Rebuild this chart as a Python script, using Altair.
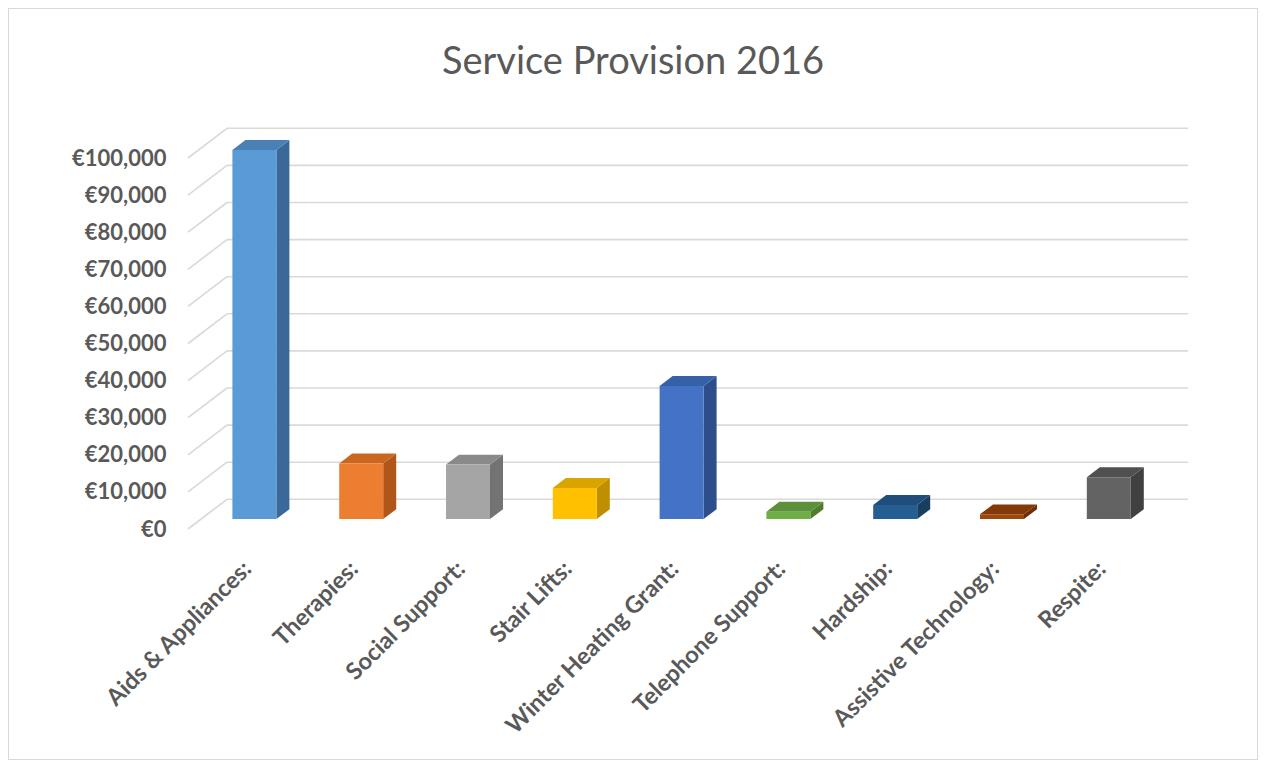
import json
import altair as alt
import pandas as pd

# ---------------- data ----------------
categories = ["Aids & Appliances:", "Therapies:", "Social Support:", "Stair Lifts:",
              "Winter Heating Grant:", "Telephone Support:", "Hardship:",
              "Assistive Technology:", "Respite:"]
values = [99500, 15000, 14700, 8400, 35900, 2000, 3800, 1300, 11300]
front_colors = ["#5B9BD5", "#ED7D31", "#A5A5A5", "#FFC000", "#4472C4",
                "#70AD47", "#255E91", "#9E480E", "#636363"]
top_colors = ["#4A80B4", "#C9671F", "#8A8A8A", "#D9A300", "#3660A8",
              "#5C9139", "#1E4E79", "#83390A", "#505050"]
side_colors = ["#3A6898", "#B0561A", "#737373", "#BF8F00", "#2C4F8C",
               "#4E7C30", "#183F62", "#6C2F08", "#404040"]
tick_values = [0, 10000, 20000, 30000, 40000, 50000, 60000, 70000, 80000, 90000, 100000]

# ---------------- geometry (pixels -> data units) ----------------
W, H = 1250, 752
PX_PER_CAT = 106.8
X0_PX = 180          # view px where x = 0 (front plane)
PX_PER_EURO = 3.71 / 1000
Y0_PX = 521          # view px (from top) where y = 0 (front plane)
x_domain = [-X0_PX / PX_PER_CAT, (W - X0_PX) / PX_PER_CAT]
y_domain = [-(H - Y0_PX) / PX_PER_EURO, Y0_PX / PX_PER_EURO]
DX = 13 / PX_PER_CAT       # one third of the depth, horizontally
DY = 9.9 / PX_PER_EURO     # one third of the depth, vertically
BW = 44 / PX_PER_CAT       # bar width
n = len(categories)

xs = alt.Scale(domain=x_domain, nice=False, zero=False)
ys = alt.Scale(domain=y_domain, nice=False, zero=False)

# gridlines: back wall + diagonal floor lines
grid_rows = []
for v in tick_values:
    grid_rows.append(dict(x=3 * DX, x2=n + 3 * DX, y=v + 3 * DY, y2=v + 3 * DY))
    grid_rows.append(dict(x=0, x2=3 * DX, y=v, y2=v + 3 * DY))
grid_df = pd.DataFrame(grid_rows)

# bar faces
front_rows, face_rows = [], []
for i, (c, v) in enumerate(zip(categories, values)):
    l = i + 0.5 - BW / 2 + DX
    r = i + 0.5 + BW / 2 + DX
    front_rows.append(dict(cat=c, x=l, x2=r, y=DY, y2=v + DY, col=front_colors[i]))
    # side face (parallelogram)
    face_rows += [
        dict(key=f"{i}s", x=r, y=DY, y2=v + DY, col=side_colors[i]),
        dict(key=f"{i}s", x=r + DX, y=2 * DY, y2=v + 2 * DY, col=side_colors[i]),
    ]
    # top face (parallelogram)
    face_rows += [
        dict(key=f"{i}t", x=l, y=v + DY, y2=v + DY, col=top_colors[i]),
        dict(key=f"{i}t", x=l + DX, y=v + DY, y2=v + 2 * DY, col=top_colors[i]),
        dict(key=f"{i}t", x=r, y=v + DY, y2=v + 2 * DY, col=top_colors[i]),
        dict(key=f"{i}t", x=r + DX, y=v + 2 * DY, y2=v + 2 * DY, col=top_colors[i]),
    ]
front_df = pd.DataFrame(front_rows)
face_df = pd.DataFrame(face_rows)

label_expr = json.dumps(categories) + "[floor(datum.value)]"

FONT = "Lato"
GREY = "#595959"

x_axis = alt.Axis(
    values=[i + 0.5 for i in range(n)], labelExpr=label_expr, title=None,
    orient="bottom", offset=-(H - Y0_PX), labelAngle=-45, labelAlign="right",
    labelBaseline="middle", labelPadding=36, labelOffset=6, ticks=False,
    domain=False, grid=False, labelFont=FONT, labelFontSize=23.5,
    labelFontWeight="bold", labelColor=GREY, labelOverlap=False, labelLimit=400)
y_axis = alt.Axis(
    values=tick_values, labelExpr="'€' + format(datum.value, ',')", title=None,
    orient="left", offset=-X0_PX, labelPadding=22, ticks=False, domain=False,
    grid=False, labelFont=FONT, labelFontSize=22, labelFontWeight="bold",
    labelColor=GREY, labelOverlap=False)

grid = alt.Chart(grid_df).mark_rule(color="#D9D9D9", strokeWidth=1.6).encode(
    x=alt.X("x:Q", scale=xs, axis=x_axis),
    x2="x2:Q",
    y=alt.Y("y:Q", scale=ys, axis=y_axis),
    y2="y2:Q",
)

faces = alt.Chart(face_df).mark_area(opacity=1, interpolate="linear").encode(
    x=alt.X("x:Q", scale=xs, axis=x_axis),
    y=alt.Y("y:Q", scale=ys, axis=y_axis),
    y2="y2:Q",
    color=alt.Color("col:N", scale=None),
    detail="key:N",
)

fronts = alt.Chart(front_df).mark_rect().encode(
    x=alt.X("x:Q", scale=xs, axis=x_axis),
    x2="x2:Q",
    y=alt.Y("y:Q", scale=ys, axis=y_axis),
    y2="y2:Q",
    color=alt.Color("col:N", scale=None),
)

chart = alt.layer(grid, faces, fronts).properties(
    width=W, height=H,
    padding=0,
    autosize=alt.AutoSizeParams(type="none"),
    background="white",
    title=alt.TitleParams("Service Provision 2016", font=FONT, fontSize=38,
                          fontWeight="normal", color=GREY, anchor="middle",
                          baseline="alphabetic", offset=-104),
).configure_view(stroke="#D9D9D9", strokeWidth=2)

chart.save("out.html", embed_options={"renderer": "svg", "actions": False})
